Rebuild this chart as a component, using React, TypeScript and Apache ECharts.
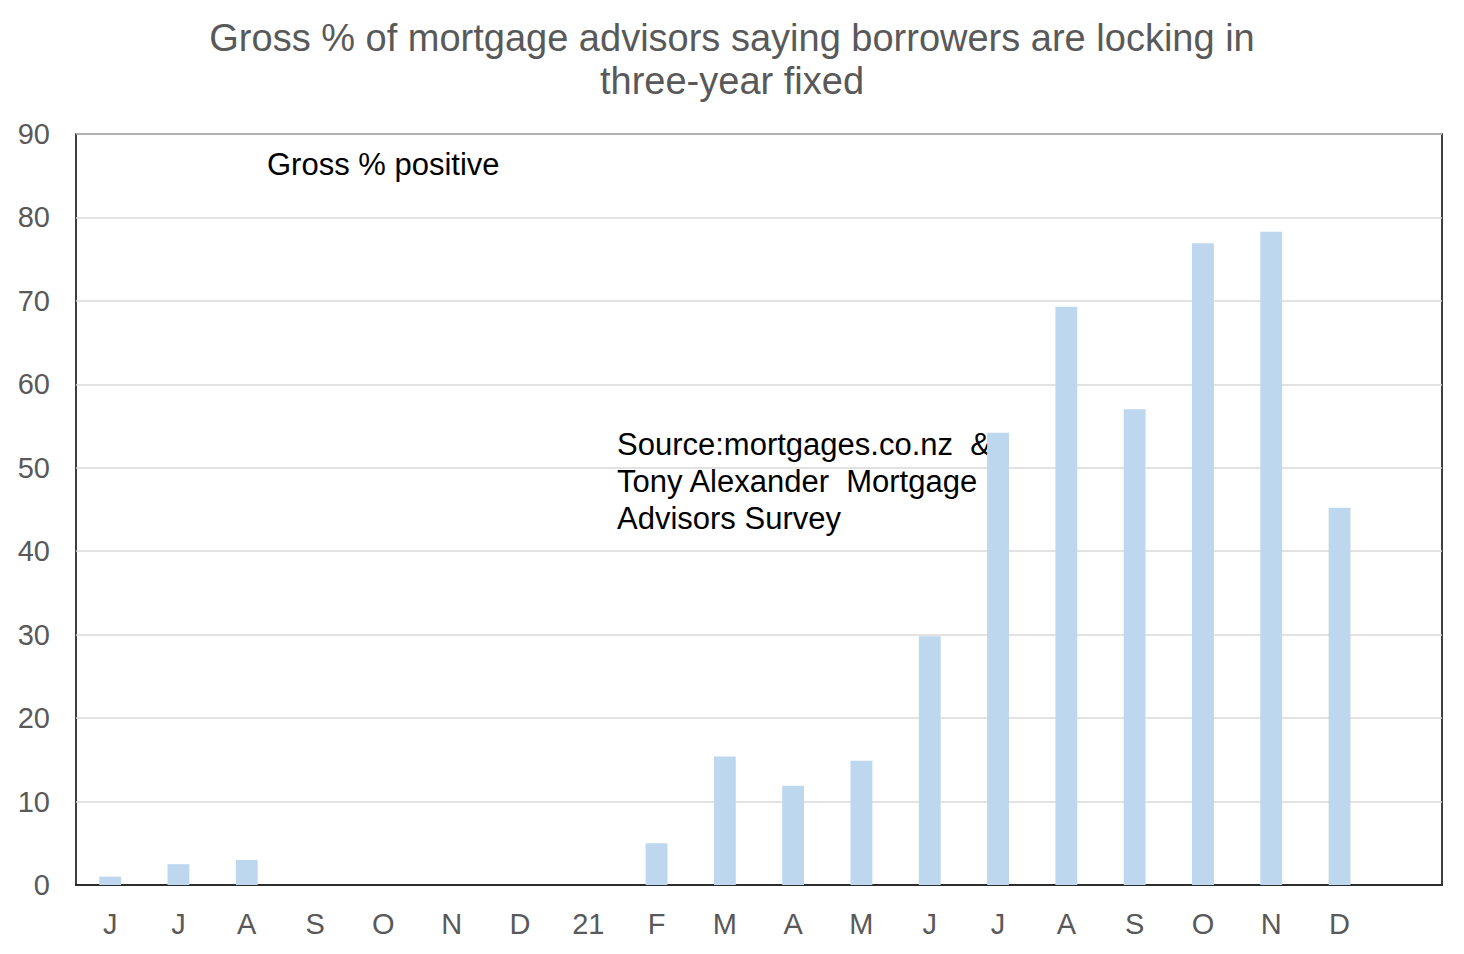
import React, { useEffect, useRef } from "react";
import * as echarts from "echarts";

const categories = ["J", "J", "A", "S", "O", "N", "D", "21", "F", "M", "A", "M", "J", "J", "A", "S", "O", "N", "D", ""];
const grossPositive = [1, 2.5, 3, 0, 0, 0, 0, 0, 5, 15.4, 11.9, 14.9, 29.8, 54.2, 69.3, 57, 76.9, 78.3, 45.2, null];
const yTicks = { min: 0, max: 90, interval: 10 };
const titleText = "Gross % of mortgage advisors saying borrowers are locking in\nthree-year fixed";
const seriesLabel = "Gross % positive";
const sourceText = "Source:mortgages.co.nz  &\nTony Alexander  Mortgage\nAdvisors Survey";

export default function App() {
  const ref = useRef<HTMLDivElement>(null);
  useEffect(() => {
    if (!ref.current) return;
    const chart = echarts.init(ref.current, null, { renderer: "svg" });
    const font = "Arial, 'Liberation Sans', sans-serif";
    chart.setOption({
      animation: false,
      backgroundColor: "#ffffff",
      title: {
        text: titleText,
        left: "center",
        top: 11,
        textStyle: {
          fontFamily: font,
          fontSize: 38,
          fontWeight: "normal",
          color: "#595959",
          lineHeight: 43,
        },
      },
      grid: {
        left: 76,
        right: 22,
        top: 134,
        bottom: 69,
        show: true,
        borderColor: "#000000",
        borderWidth: 1.5,
        backgroundColor: "transparent",
      },
      xAxis: {
        type: "category",
        data: categories,
        axisLine: { show: true, lineStyle: { color: "#000000", width: 1.5 } },
        axisTick: { show: false },
        axisLabel: {
          fontFamily: font,
          fontSize: 29,
          color: "#595959",
          margin: 24,
          interval: 0,
        },
      },
      yAxis: {
        type: "value",
        min: yTicks.min,
        max: yTicks.max,
        interval: yTicks.interval,
        axisLine: { show: false },
        axisTick: { show: false },
        splitLine: { lineStyle: { color: "#d9d9d9", width: 1.5 } },
        axisLabel: {
          fontFamily: font,
          fontSize: 29,
          color: "#595959",
          margin: 26,
        },
      },
      series: [
        {
          type: "bar",
          name: seriesLabel,
          data: grossPositive,
          barWidth: "32%",
          itemStyle: { color: "#bdd7ee" },
        },
      ],
      graphic: [
        {
          type: "text",
          left: 267,
          top: 149,
          style: {
            text: seriesLabel,
            font: `31px ${font}`,
            fill: "#000000",
          },
        },
        {
          type: "text",
          left: 617,
          top: 426,
          style: {
            text: sourceText,
            font: `31px ${font}`,
            fill: "#000000",
            lineHeight: 37,
          },
        },
      ],
    });
    return () => chart.dispose();
  }, []);
  return (
    <div
      ref={ref}
      style={{ position: "fixed", left: 0, top: 0, width: 1464, height: 954 }}
    />
  );
}
